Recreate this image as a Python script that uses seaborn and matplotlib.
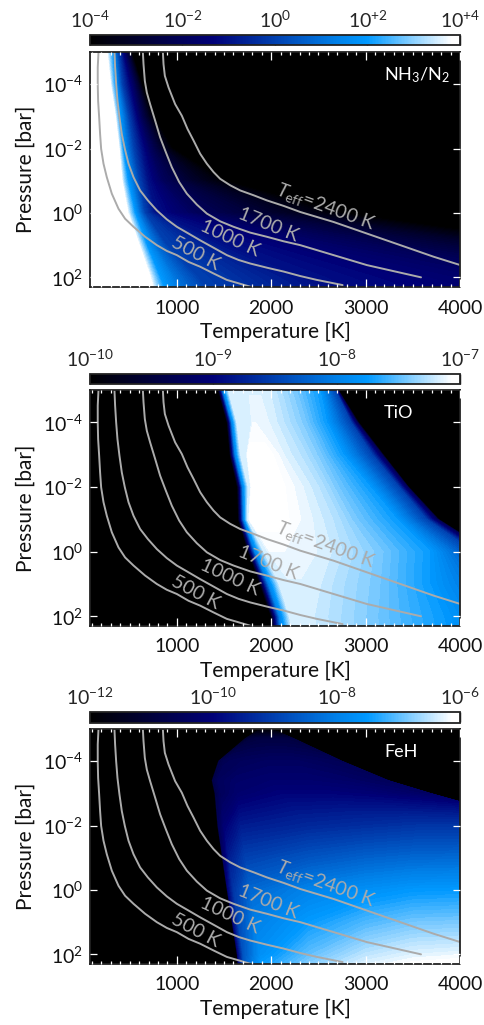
import numpy as np
import matplotlib
matplotlib.use('Agg')
import matplotlib.pyplot as plt
import seaborn as sns
from matplotlib.colors import LinearSegmentedColormap, Normalize
from matplotlib.cm import ScalarMappable

sns.set_style('ticks')
plt.rcParams['font.family'] = ['Lato', 'DejaVu Sans']
plt.rcParams['mathtext.fontset'] = 'custom'
plt.rcParams['mathtext.rm'] = 'Lato'
plt.rcParams['mathtext.it'] = 'Lato:italic'
plt.rcParams['mathtext.default'] = 'rm'

# T-P profiles, log10(P) against T
t_500 = [170, 162, 162, 166, 177, 187, 198, 223, 258, 311, 382, 452, 541, 664, 788, 894, 1000, 1124, 1247, 1389, 1530, 1777]
p_500 = [-5, -4.52, -4, -3.48, -2.97, -2.45, -1.99, -1.53, -1.11, -0.60, -0.13, 0.18, 0.43, 0.74, 1.0, 1.18, 1.31, 1.52, 1.67, 1.88, 2.08, 2.29]
t_1000 = [339, 346, 357, 371, 392, 417, 449, 488, 541, 611, 693, 788, 894, 1000, 1124, 1247, 1389, 1530, 1654, 1777, 1954, 2131, 2308, 2484, 2756]
p_1000 = [-5, -4.52, -4, -3.48, -2.97, -2.45, -1.99, -1.53, -1.11, -0.70, -0.39, -0.08, 0.20, 0.43, 0.64, 0.85, 1.08, 1.31, 1.46, 1.57, 1.70, 1.82, 1.96, 2.08, 2.24]
t_1700 = [640, 647, 661, 682, 717, 770, 823, 883, 947, 1025, 1106, 1212, 1318, 1459, 1601, 1777, 1954, 2131, 2308, 2661, 3014, 3587]
p_1700 = [-5, -4.62, -4.10, -3.74, -3.38, -2.87, -2.35, -1.89, -1.42, -0.96, -0.60, -0.26, 0.02, 0.26, 0.43, 0.61, 0.74, 0.88, 1.0, 1.31, 1.62, 2.0]
t_2400 = [852, 859, 873, 912, 982, 1053, 1113, 1177, 1247, 1318, 1389, 1459, 1565, 1671, 1813, 1954, 2131, 2308, 2661, 3014, 3368, 3721, 4004]
p_2400 = [-5, -4.62, -4.26, -3.90, -3.38, -3.02, -2.61, -2.25, -1.84, -1.53, -1.27, -1.06, -0.86, -0.70, -0.55, -0.39, -0.22, -0.03, 0.28, 0.64, 1.0, 1.36, 1.62]

# NH3/N2: temperature of each iso-value at each pressure row
nh3_logp = [-5, -4, -3, -2, -1, 0, 1, 2, 2.3]
nh3_vals = [4, 4, 3, 2, 1, 0, -1, -2, -3, -4, -4]
nh3_temp = [
    [0, 0, 0, 0, 0, 0, 0, 0, 0],
    [250, 290, 340, 380, 410, 470, 590, 705, 730],
    [285, 315, 365, 405, 440, 510, 635, 760, 790],
    [320, 346, 392, 427, 480, 555, 680, 820, 860],
    [345, 380, 440, 480, 540, 605, 770, 990, 1040],
    [380, 417, 488, 540, 600, 660, 890, 1220, 1300],
    [415, 480, 550, 625, 690, 770, 1500, 2300, 2500],
    [450, 540, 611, 717, 850, 1200, 3000, 5000, 5500],
    [490, 590, 680, 830, 1150, 2000, 4300, 7000, 8000],
    [520, 630, 753, 960, 1520, 2800, 5200, 9000, 10000],
    [14000, 14000, 14000, 14000, 14000, 14000, 14000, 14000, 14000],
]

# TiO
tio_logp = [-5, -4, -3, -2, -1, 0, 1, 2, 2.3]
tio_core = [-7.16, -7.1, -7.02, -7.02, -7.02, -7.1, -7.16, -7.16, -7.16]
tio_vals = [-10, -10, -9, -8, -7.16, -7.16, tio_core, tio_core, -7.16, -7.27, -7.43, -7.75, -8.5, -9.3, -10, -10]
tio_temp = [
    [0, 0, 0, 0, 0, 0, 0, 0, 0],
    [1438, 1530, 1562, 1640, 1650, 1756, 1880, 1997, 2004],
    [1465, 1557, 1590, 1670, 1680, 1790, 1920, 2040, 2050],
    [1490, 1585, 1620, 1700, 1710, 1830, 1975, 2090, 2100],
    [1550, 1640, 1680, 1760, 1750, 1930, 2090, 2200, 2220],
    [1750, 1790, 1738, 1780, 1760, 1960, 2200, 2250, 2270],
    [1760, 1806, 1753, 1795, 1774, 1985, 2210, 2260, 2280],
    [1900, 1830, 1986, 2090, 2114, 2140, 2350, 2320, 2350],
    [1933, 2004, 2145, 2357, 2463, 2552, 2428, 2340, 2370],
    [2074, 2163, 2340, 2534, 2693, 2799, 2693, 2657, 2660],
    [2251, 2357, 2516, 2693, 2887, 3152, 3117, 3082, 3090],
    [2516, 2587, 2764, 3046, 3329, 3682, 3682, 3824, 3850],
    [2675, 2840, 3064, 3347, 3640, 4142, 4672, 5025, 5100],
    [2700, 2905, 3170, 3440, 3755, 4290, 5100, 5900, 6000],
    [2711, 2926, 3188, 3456, 3775, 4319, 5200, 6000, 6100],
    [14000, 14000, 14000, 14000, 14000, 14000, 14000, 14000, 14000],
]

# FeH, value changes along the rows so each column has its own list
feh_logp = [-5, -4.7, -4, -3.4, -3, -2, -1, 0, 1, 2, 2.3]
feh_vals = [
    [-12] * 11,
    [-12] * 11,
    [-12, -11.2, -10.8, -10.8, -10.8, -10.6, -10.4, -10, -10, -10, -10],
    [-12, -11, -10.6, -10.5, -10.5, -10.1, -9.6, -9.2, -8.9, -8.7, -8.6],
    [-12, -10.9, -10.5, -10.3, -10.2, -9.6, -9.0, -8.4, -8, -7.7, -7.5],
    [-12, -10.9, -10.4, -10.2, -10.0, -9.4, -8.7, -7.95, -7.5, -7, -6.8],
    [-12, -10.9, -10.4, -10.2, -10.0, -9.3, -8.5, -7.7, -7.1, -6.5, -6.3],
    [-12, -10.9, -10.5, -10.3, -10.1, -9.2, -8.4, -7.55, -6.9, -6.3, -6.1],
    [-12, -11, -10.6, -10.5, -10.4, -9.2, -8.3, -7.45, -6.8, -6.1, -5.95],
    [-12] * 11,
    [-12] * 11,
]
feh_temp = [
    [0] * 11,
    [1880, 1720, 1440, 1371, 1400, 1430, 1480, 1530, 1583, 1636, 1643],
    [1885, 1735, 1452, 1383, 1412, 1442, 1492, 1542, 1595, 1648, 1655],
    [1900, 1780, 1510, 1441, 1470, 1500, 1550, 1600, 1653, 1706, 1713],
    [1930, 1880, 1690, 1621, 1650, 1680, 1730, 1780, 1833, 1886, 1893],
    [1950, 1980, 1990, 2000, 2100, 2400, 2400, 2400, 2400, 2400, 2400],
    [1970, 2060, 2250, 2400, 2600, 3000, 3000, 3000, 3000, 3000, 3000],
    [1990, 2140, 2500, 2800, 3100, 3600, 3500, 3500, 3500, 3500, 3500],
    [2000, 2230, 2740, 3230, 3680, 4900, 5000, 5000, 5000, 5000, 5000],
    [2015, 2245, 2755, 3245, 3695, 4915, 5015, 5015, 5015, 5015, 5015],
    [14000] * 11,
]

cbar_ticks_nh3 = [-4, -2, 0, 2, 4]
cbar_labels_nh3 = ['$10^{-4}$', '$10^{-2}$', '$10^{0}$', '$10^{+2}$', '$10^{+4}$']
cbar_ticks_tio = [-10, -9, -8, -7]
cbar_labels_tio = ['$10^{-10}$', '$10^{-9}$', '$10^{-8}$', '$10^{-7}$']
cbar_ticks_feh = [-12, -10, -8, -6]
cbar_labels_feh = ['$10^{-12}$', '$10^{-10}$', '$10^{-8}$', '$10^{-6}$']

W, H = 485, 1025
cmap = LinearSegmentedColormap.from_list('idl', [
    (0, '#000000'), (1 / 3, '#000078'), (2 / 3, '#0080e8'), (0.75, '#0099ff'), (0.98, '#ffffff'), (1, '#ffffff')], N=256)
GREY = '#ababab'
FS = 14


def px_axes(x0, y0, x1, y1):
    return fig.add_axes([x0 / W, 1 - y1 / H, (x1 - x0) / W, (y1 - y0) / H])


def panel(bar_y, ax_y, logp, temps, vals, ticks, labels, name, name_y, nlev, top_dark, bottom_dark, left_dark):
    vmin, vmax = ticks[0], ticks[-1]
    ax = px_axes(90, ax_y[0], 460, ax_y[1])
    X = np.array(temps, dtype=float).T
    Y = np.tile(np.array(logp)[:, None], (1, X.shape[1]))
    Z = np.array([np.full(len(logp), v, dtype=float) if np.isscalar(v) else np.array(v, dtype=float) for v in vals]).T
    ax.contourf(X, Y, Z, levels=np.linspace(vmin, vmax, nlev), cmap=cmap, extend='both')

    for t, p in [(t_500, p_500), (t_1000, p_1000), (t_1700, p_1700), (t_2400, p_2400)]:
        sns.lineplot(x=t, y=p, ax=ax, color=GREY, lw=1.4, sort=False, estimator=None, errorbar=None)

    ax.set_axisbelow(False)
    ax.set_xlim(80, 4000)
    ax.set_ylim(2.3, -5)
    ax.set_xticks([1000, 2000, 3000, 4000])
    ax.set_xticks(np.arange(100, 4000, 100), minor=True)
    ax.set_yticks([-4, -2, 0, 2])
    ax.set_yticklabels(['$10^{-4}$', '$10^{-2}$', '$10^{0}$', '$10^{2}$'])
    ax.tick_params(axis='x', which='major', direction='in', top=True, length=6, width=0.9, colors='white', labelsize=FS, labelcolor='#111111', pad=9)
    ax.tick_params(axis='x', which='minor', direction='in', top=True, length=2.2, width=0.9, colors='white')
    ax.tick_params(axis='y', which='major', direction='in', right=True, length=5, width=0.9, colors='white', labelsize=FS, labelcolor='#111111', pad=5)
    # tick marks go dark over the pale parts of the map
    for tick in ax.xaxis.get_major_ticks() + ax.xaxis.get_minor_ticks():
        t = tick.get_loc()
        if top_dark[0] <= t <= top_dark[1]:
            tick.tick2line.set_color('black')
        if bottom_dark[0] <= t <= bottom_dark[1]:
            tick.tick1line.set_color('black')
    if left_dark:
        for tick in ax.yaxis.get_major_ticks():
            tick.tick1line.set_color('black')
    for s in ax.spines.values():
        s.set_visible(True)
        s.set_color('#222222')
        s.set_linewidth(1.3)
    ax.set_xlabel('Temperature [K]', fontsize=FS + 1, labelpad=4, color='#111111')
    ax.set_ylabel('Pressure [bar]', fontsize=FS + 1, labelpad=5, color='#111111')

    ax.text(384 / W, 1 - name_y / H, name, transform=fig.transFigure, color='white', fontsize=FS - 1, va='center', ha='left')
    ax.text(1194, 1.26, '500 K', color=GREY, fontsize=FS, rotation=-28, ha='center', va='center')
    ax.text(1558, 0.79, '1000 K', color=GREY, fontsize=FS, rotation=-25, ha='center', va='center')
    ax.text(1972, 0.35, '1700 K', color=GREY, fontsize=FS, rotation=-22, ha='center', va='center')
    ax.text(2572, -0.20, '$\\mathit{T}_{eff}$=2400 K', color=GREY, fontsize=FS, rotation=-20, ha='center', va='center')

    cax = px_axes(90, bar_y[0], 460, bar_y[1])
    cb = fig.colorbar(ScalarMappable(Normalize(vmin, vmax), cmap), cax=cax, orientation='horizontal')
    cb.set_ticks(ticks)
    cb.set_ticklabels(labels)
    cax.xaxis.set_ticks_position('top')
    cax.tick_params(axis='x', direction='in', length=7.5, width=1, color='black', labelsize=FS, pad=3)
    cb.outline.set_linewidth(1.3)
    cb.outline.set_edgecolor('#222222')
    return ax


fig = plt.figure(figsize=(W / 100, H / 100), dpi=100)
no_range = (-1, -1)
panel((35, 45), (52, 287), nh3_logp, nh3_temp, nh3_vals, cbar_ticks_nh3, cbar_labels_nh3,
      'NH$_3$/N$_2$', 75, 81, (0, 250), (0, 700), True)
panel((374, 384), (390, 626), tio_logp, tio_temp, tio_vals, cbar_ticks_tio, cbar_labels_tio,
      'TiO', 413, 61, (1500, 2500), (2200, 2800), False)
panel((712, 723), (729, 964), feh_logp, feh_temp, feh_vals, cbar_ticks_feh, cbar_labels_feh,
      'FeH', 752, 81, no_range, (2600, 4000), False)

fig.savefig('out.png', dpi=100, facecolor='white')
